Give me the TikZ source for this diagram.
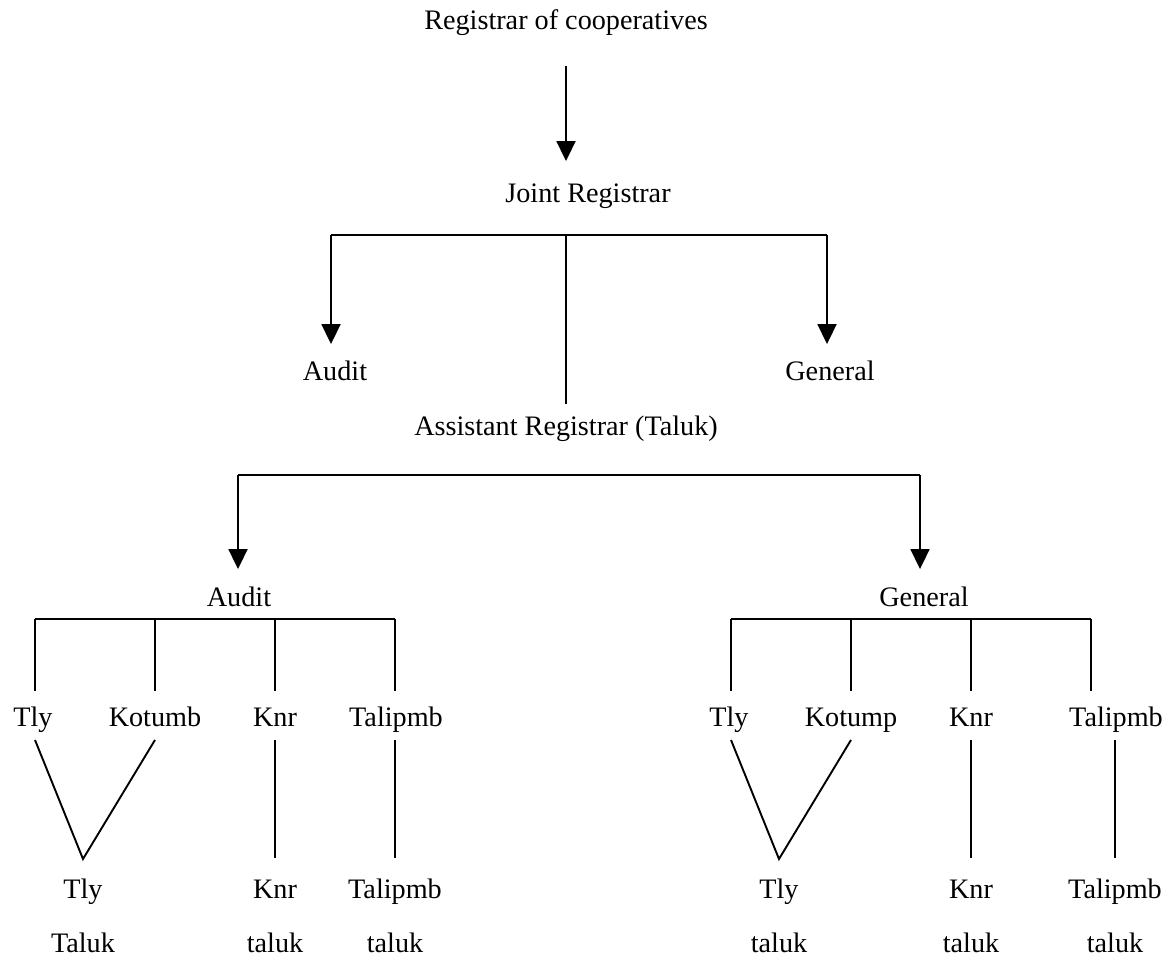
\documentclass[tikz,border=0pt]{standalone}
\usepackage{fontspec}
\setmainfont{Liberation Serif}
\usepackage{tikz}
\usetikzlibrary{arrows.meta}

\tikzset{
  lbl/.style={inner sep=0pt, text height=20pt, text depth=6pt, font=\fontsize{28.2}{34}\selectfont},
  arr/.style={-{Triangle[length=20pt, width=19pt]}},
  ln/.style={line width=1.9pt}
}

\begin{document}
\begin{tikzpicture}[x=1pt, y=-1pt, ln]
        \useasboundingbox (0,0) rectangle (1176,962);

        \node[lbl] (reg) at (566,22) {Registrar of cooperatives};
        \node[lbl] (jr) at (588,195) {Joint Registrar};
        \node[lbl] (aud) at (335,373) {Audit};
        \node[lbl] (gen) at (830,373) {General};
        \node[lbl] (asst) at (566,428) {Assistant Registrar (Taluk)};

        \node[lbl] (audB) at (239,599) {Audit};
        \node[lbl] (genB) at (924,599) {General};

        \node[lbl] (tlyA) at (33,719) {Tly};
        \node[lbl] (kotA) at (155,719) {Kotumb};
        \node[lbl] (knrA) at (275,719) {Knr};
        \node[lbl] (talA) at (396,719) {Talipmb};
        \node[lbl] (tlyA2) at (83,891) {Tly};
        \node[lbl] (tlyA3) at (83,945) {Taluk};
        \node[lbl] (knrA2) at (275,891) {Knr};
        \node[lbl] (knrA3) at (275,945) {taluk};
        \node[lbl] (talA2) at (395,891) {Talipmb};
        \node[lbl] (talA3) at (395,945) {taluk};

        \node[lbl] (tlyG) at (729,719) {Tly};
        \node[lbl] (kotG) at (851,719) {Kotump};
        \node[lbl] (knrG) at (971,719) {Knr};
        \node[lbl] (talG) at (1116,719) {Talipmb};
        \node[lbl] (tlyG2) at (779,891) {Tly};
        \node[lbl] (tlyG3) at (779,945) {taluk};
        \node[lbl] (knrG2) at (971,891) {Knr};
        \node[lbl] (knrG3) at (971,945) {taluk};
        \node[lbl] (talG2) at (1115,891) {Talipmb};
        \node[lbl] (talG3) at (1115,945) {taluk};

        \coordinate (jrL) at (331,235);
        \coordinate (jrC) at (566,235);
        \coordinate (jrR) at (827,235);
        \coordinate (asL) at (238,475);
        \coordinate (asR) at (920,475);
        \coordinate (auL) at (35,619);
        \coordinate (auR) at (395,619);
        \coordinate (geL) at (731,619);
        \coordinate (geR) at (1091,619);
        \coordinate (apxA) at (83,859);
        \coordinate (apxG) at (779,859);

        % top levels
        \path [arr] (reg.south) edge[shorten <=30pt, shorten >=20pt] (reg.south |- jr.north);
        \draw (jrL) -- (jrR);
        \path [arr] (jrL) edge[shorten >=15pt] (jrL |- aud.north);
        \path [arr] (jrR) edge[shorten >=15pt] (jrR |- gen.north);
        \path (jrC) edge[shorten >=10pt] (jrC |- asst.north);

        \draw (asL) -- (asR);
        \path [arr] (asL) edge[shorten >=16pt] (asL |- audB.north);
        \path [arr] (asR) edge[shorten >=16pt] (asR |- genB.north);

        % audit branch
        \draw (auL) -- (auR);
        \path (auL) edge[shorten >=14pt] (auL |- tlyA.north);
        \path (auL -| kotA) edge[shorten >=14pt] (kotA.north);
        \path (auL -| knrA) edge[shorten >=14pt] (knrA.north);
        \path (auR) edge[shorten >=14pt] (auR |- talA.north);
        \draw ([yshift=-7pt]tlyA.south -| auL) -- (apxA) -- ([yshift=-7pt]kotA.south);
        \path (knrA) edge[shorten <=7pt, shorten >=19pt] (knrA2);
        \path (talA2 |- talA.south) edge[shorten <=7pt, shorten >=19pt] (talA2.north);

        % general branch
        \draw (geL) -- (geR);
        \path (geL) edge[shorten >=14pt] (geL |- tlyG.north);
        \path (geL -| kotG) edge[shorten >=14pt] (kotG.north);
        \path (geL -| knrG) edge[shorten >=14pt] (knrG.north);
        \path (geR) edge[shorten >=14pt] (geR |- talG.north);
        \draw ([yshift=-7pt]tlyG.south -| geL) -- (apxG) -- ([yshift=-7pt]kotG.south);
        \path (knrG) edge[shorten <=7pt, shorten >=19pt] (knrG2);
        \path (talG2 |- talG.south) edge[shorten <=7pt, shorten >=19pt] (talG2.north);

    \end{tikzpicture}
\end{document}
